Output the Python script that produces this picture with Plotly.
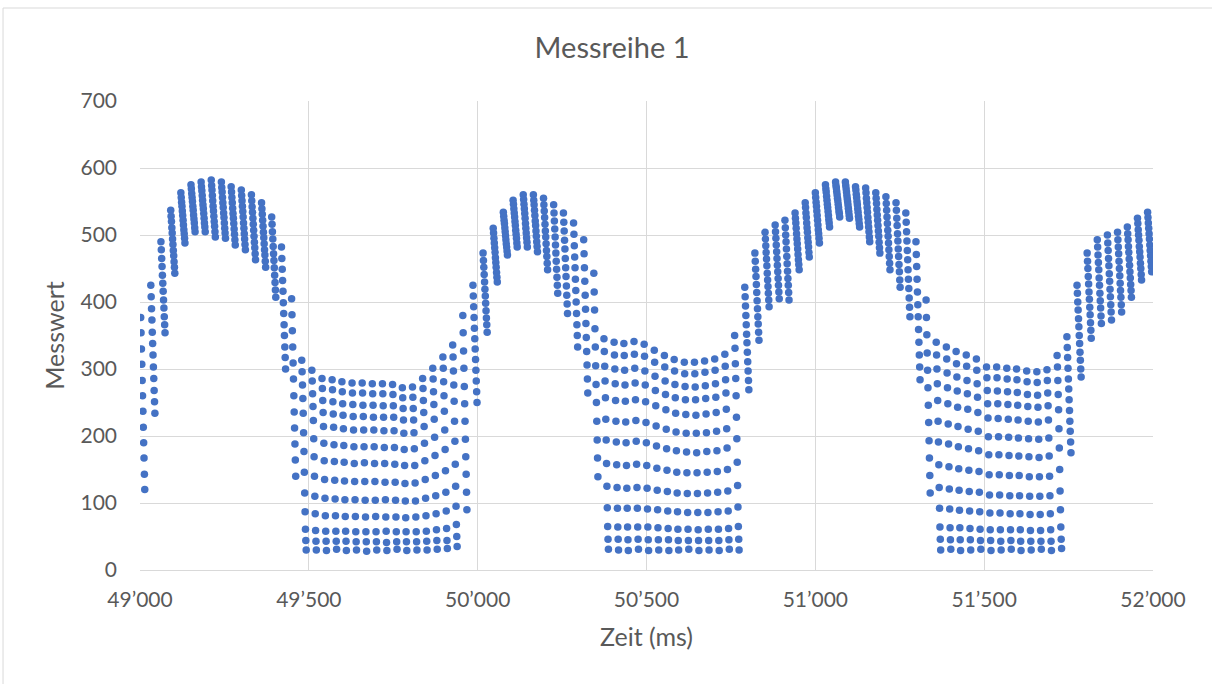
import plotly.graph_objects as go

# --- Data -------------------------------------------------------------------
# start time (ms) of each ~30 ms sample block (column of points)
spalten_start_ms = [
    49002, 49032, 49062, 49091, 49121, 49151, 49181, 49211, 49241, 49270,
    49300, 49330, 49360, 49390, 49419, 49449, 49479, 49509, 49539, 49569,
    49598, 49628, 49658, 49688, 49718, 49748, 49777, 49807, 49837, 49867,
    49897, 49926, 49956, 49986, 50016, 50046, 50076, 50105, 50135, 50165,
    50195, 50225, 50254, 50284, 50314, 50344, 50374, 50404, 50433, 50463,
    50493, 50523, 50553, 50582, 50612, 50642, 50672, 50702, 50732, 50761,
    50791, 50821, 50851, 50881, 50910, 50940, 50970, 51000, 51030, 51060,
    51089, 51119, 51149, 51179, 51209, 51239, 51268, 51298, 51328, 51358,
    51388, 51417, 51447, 51477, 51507, 51537, 51567, 51596, 51626, 51656,
    51686, 51716, 51745, 51775, 51805, 51835, 51865, 51895, 51924, 51954,
    51984,
]
abtastintervall_ms = 1.1  # spacing of samples inside one block

spitze_1 = [
    [377, 354, 330, 307, 283, 260, 237, 213, 190, 167, 143, 120],
    [425, 408, 390, 373, 355, 338, 321, 303, 286, 268, 251, 234],
    [490, 478, 465, 453, 440, 428, 416, 403, 391, 378, 366, 354],
    [537, 528, 520, 511, 503, 494, 486, 477, 469, 460, 452, 443],
    [563, 556, 549, 543, 536, 529, 522, 515, 508, 502, 495, 488],
    [575, 569, 562, 556, 550, 543, 537, 530, 524, 518, 511, 505],
    [579, 572, 566, 559, 552, 545, 539, 532, 525, 518, 512, 505],
    [582, 574, 567, 559, 551, 543, 536, 528, 520, 513, 505, 497],
    [579, 571, 564, 556, 548, 541, 533, 526, 518, 510, 503, 495],
    [572, 564, 556, 548, 540, 532, 525, 517, 509, 501, 493, 485],
    [567, 559, 551, 543, 535, 527, 518, 510, 502, 494, 486, 478],
    [560, 551, 542, 534, 525, 516, 507, 498, 489, 481, 472, 463],
    [548, 539, 531, 522, 513, 504, 496, 487, 478, 470, 461, 452],
    [527, 516, 505, 494, 483, 472, 462, 451, 440, 429, 418, 407],
    [482, 465, 449, 432, 416, 399, 383, 366, 350, 333, 317, 300],
    [405, 381, 357, 333, 309, 285, 260, 236, 212, 188, 164, 140],
]
tal_1 = [
    [313, 296, 276, 256, 234, 205, 177, 146, 115, 87, 61, 44, 30],
    [298, 282, 263, 244, 223, 196, 169, 140, 110, 84, 59, 43, 30],
    [286, 271, 253, 235, 214, 189, 163, 135, 107, 81, 58, 43, 29],
    [284, 269, 251, 233, 213, 187, 162, 134, 106, 81, 58, 43, 31],
    [281, 266, 248, 231, 211, 186, 161, 133, 105, 80, 58, 43, 29],
    [279, 264, 247, 229, 209, 184, 159, 132, 105, 80, 57, 42, 30],
    [279, 264, 246, 229, 209, 184, 160, 132, 104, 79, 57, 42, 28],
    [278, 263, 246, 228, 209, 184, 159, 132, 104, 80, 57, 42, 30],
    [278, 263, 245, 228, 208, 183, 159, 131, 105, 79, 58, 41, 29],
    [277, 262, 245, 228, 208, 183, 158, 131, 104, 79, 57, 42, 31],
    [272, 257, 241, 224, 204, 180, 156, 129, 103, 78, 57, 42, 29],
    [273, 258, 241, 224, 205, 181, 156, 130, 103, 79, 57, 42, 30],
    [286, 271, 253, 235, 214, 189, 163, 135, 107, 81, 58, 43, 30],
    [301, 285, 266, 247, 225, 198, 171, 141, 111, 84, 60, 44, 31],
    [318, 301, 281, 260, 237, 209, 180, 148, 116, 88, 62, 44, 32],
    [336, 318, 297, 276, 252, 222, 192, 158, 125, 95, 68, 50, 35],
    [380, 354, 327, 301, 274, 248, 222, 195, 169, 143, 116, 90],
]
spitze_2 = [
    [425, 409, 393, 377, 361, 345, 330, 314, 298, 282, 266, 250],
    [473, 462, 452, 441, 430, 419, 409, 398, 387, 376, 366, 355],
    [510, 503, 495, 488, 481, 474, 466, 459, 452, 444, 437, 430],
    [534, 528, 522, 517, 511, 505, 499, 493, 487, 482, 476, 470],
    [552, 546, 539, 533, 527, 520, 514, 507, 501, 495, 488, 482],
    [560, 553, 546, 539, 532, 525, 517, 510, 503, 496, 489, 482],
    [560, 552, 545, 537, 529, 521, 514, 506, 498, 490, 483, 475],
    [555, 545, 536, 526, 516, 506, 497, 487, 477, 468, 458, 448],
    [545, 533, 521, 509, 497, 485, 473, 461, 449, 437, 425, 413],
    [533, 519, 506, 492, 479, 465, 451, 438, 424, 410, 397, 383],
    [518, 501, 484, 467, 451, 434, 417, 400, 383, 366, 350, 333],
    [493, 472, 451, 431, 410, 389, 368, 347, 326, 306, 285, 264],
    [443, 415, 388, 360, 333, 305, 277, 250, 222, 194, 167, 139],
]
tal_2 = [
    [345, 326, 304, 282, 257, 225, 194, 159, 125, 93, 65, 46, 31],
    [340, 321, 300, 278, 253, 222, 191, 157, 123, 92, 64, 46, 30],
    [338, 320, 298, 276, 252, 221, 190, 156, 122, 92, 64, 45, 29],
    [341, 322, 301, 279, 254, 223, 192, 158, 123, 92, 64, 46, 31],
    [337, 319, 297, 276, 251, 220, 190, 156, 122, 91, 64, 45, 29],
    [328, 310, 289, 268, 245, 215, 185, 152, 119, 90, 63, 45, 30],
    [320, 303, 282, 262, 239, 210, 181, 149, 117, 88, 62, 45, 29],
    [314, 297, 277, 257, 234, 206, 178, 146, 115, 87, 61, 44, 30],
    [310, 293, 274, 254, 232, 204, 176, 145, 114, 86, 61, 44, 31],
    [310, 293, 273, 254, 231, 204, 175, 145, 114, 86, 60, 44, 29],
    [312, 295, 275, 256, 233, 205, 177, 146, 115, 86, 61, 44, 30],
    [315, 298, 278, 258, 235, 207, 178, 147, 116, 87, 61, 44, 29],
    [322, 304, 284, 264, 240, 211, 182, 150, 118, 88, 62, 45, 31],
    [350, 331, 308, 286, 260, 228, 196, 161, 126, 94, 65, 46, 30],
]
spitze_3 = [
    [422, 408, 394, 380, 366, 352, 339, 325, 311, 297, 283, 269],
    [473, 461, 449, 438, 426, 414, 402, 390, 378, 367, 355, 343],
    [504, 494, 484, 474, 464, 454, 443, 433, 423, 413, 403, 393],
    [515, 505, 495, 485, 475, 465, 455, 445, 435, 425, 415, 405],
    [522, 511, 500, 490, 479, 468, 457, 446, 435, 425, 414, 403],
    [533, 525, 518, 510, 502, 494, 487, 479, 471, 463, 456, 448],
    [548, 541, 533, 526, 518, 511, 504, 496, 489, 482, 474, 467],
    [563, 556, 549, 543, 536, 529, 522, 515, 508, 502, 495, 488],
    [575, 569, 564, 558, 552, 546, 541, 535, 529, 523, 518, 512],
    [579, 574, 570, 565, 560, 555, 551, 546, 541, 536, 532, 527],
    [579, 574, 569, 564, 559, 554, 550, 545, 540, 535, 530, 525],
    [572, 567, 561, 556, 550, 545, 539, 534, 528, 523, 517, 512],
    [570, 563, 555, 548, 541, 534, 526, 519, 512, 505, 497, 490],
    [563, 555, 547, 538, 530, 522, 514, 506, 498, 489, 481, 473],
    [557, 547, 537, 527, 517, 507, 498, 488, 478, 468, 458, 448],
    [548, 537, 525, 514, 502, 491, 479, 468, 456, 445, 433, 422],
    [533, 519, 505, 491, 477, 463, 448, 434, 420, 406, 392, 378],
    [490, 471, 453, 434, 415, 396, 378, 359, 340, 321, 303, 284],
    [403, 377, 351, 324, 298, 272, 246, 220, 193, 167, 141, 115],
]
tal_3 = [
    [340, 321, 300, 278, 253, 222, 191, 157, 123, 92, 64, 46, 30],
    [333, 315, 294, 272, 248, 218, 188, 154, 121, 91, 63, 45, 31],
    [326, 308, 288, 267, 243, 214, 184, 151, 119, 89, 63, 45, 29],
    [321, 304, 283, 263, 240, 210, 181, 149, 117, 88, 62, 45, 30],
    [315, 298, 278, 258, 235, 207, 178, 147, 116, 87, 61, 44, 31],
    [303, 287, 268, 248, 227, 199, 172, 142, 112, 85, 60, 44, 29],
    [303, 287, 267, 248, 226, 199, 172, 142, 112, 85, 60, 43, 30],
    [301, 285, 266, 247, 225, 198, 171, 141, 111, 84, 60, 44, 31],
    [300, 284, 265, 246, 224, 197, 170, 141, 111, 84, 60, 43, 29],
    [297, 281, 262, 244, 222, 196, 169, 139, 110, 83, 59, 43, 30],
    [296, 280, 261, 243, 221, 195, 168, 139, 110, 83, 59, 43, 31],
    [299, 283, 264, 245, 224, 197, 170, 140, 111, 84, 60, 43, 29],
    [320, 303, 283, 262, 239, 211, 182, 150, 118, 90, 64, 46, 32],
]
anstieg_4 = [
    [348, 332, 317, 301, 285, 270, 254, 238, 222, 207, 191, 175],
    [425, 413, 400, 388, 375, 363, 350, 338, 325, 313, 300, 288],
    [473, 461, 450, 438, 427, 415, 404, 392, 381, 369, 358, 346],
    [493, 482, 470, 459, 448, 436, 425, 413, 402, 391, 379, 368],
    [500, 488, 477, 465, 454, 442, 431, 419, 408, 396, 385, 373],
    [504, 493, 482, 472, 461, 450, 439, 428, 417, 407, 396, 385],
    [512, 502, 493, 483, 474, 464, 455, 445, 436, 426, 417, 407],
    [525, 517, 508, 500, 492, 483, 475, 467, 458, 450, 441, 433],
    [534, 526, 518, 510, 502, 494, 485, 477, 469, 461, 453, 445],
]

x_ticks = [49000, 49500, 50000, 50500, 51000, 51500, 52000]
x_ticktext = ["49’000", "49’500", "50’000", "50’500", "51’000", "51’500", "52’000"]
y_ticks = [0, 100, 200, 300, 400, 500, 600, 700]

# --- Build point lists -------------------------------------------------------
bloecke = spitze_1 + tal_1 + spitze_2 + tal_2 + spitze_3 + tal_3 + anstieg_4
zeit, wert = [], []
for t0, block in zip(spalten_start_ms, bloecke):
    for i, v in enumerate(block):
        zeit.append(t0 + i * abtastintervall_ms)
        wert.append(v)

FONT = "Lato, Carlito, Calibri, sans-serif"
GREY = "#595959"
GRID = "#D9D9D9"

fig = go.Figure(
    go.Scatter(
        x=zeit, y=wert, mode="markers",
        marker=dict(size=7.5, color="#4472C4", line=dict(width=0)),
        cliponaxis=True, showlegend=False,
    )
)

fig.update_layout(
    width=1212, height=684,
    margin=dict(l=140, r=59, t=101, b=114),
    paper_bgcolor="white", plot_bgcolor="white",
    font=dict(family=FONT, color=GREY),
    title=dict(text="Messreihe 1", x=0.505, xref="container", xanchor="center",
               y=1 - 48 / 684, yref="container", yanchor="middle",
               font=dict(size=29, color=GREY, family=FONT)),
    shapes=[dict(type="rect", xref="paper", yref="paper",
                 x0=-0.1352, x1=1.2, y0=-0.4, y1=(570 - 8) / 469,
                 line=dict(color=GRID, width=1), layer="below")],
)
fig.update_xaxes(
    range=[49000, 52000], tickvals=x_ticks, ticktext=x_ticktext,
    showgrid=True, gridcolor=GRID, gridwidth=1, zeroline=False,
    showline=True, linecolor=GRID, linewidth=1,
    ticks="", ticklabelstandoff=11,
    tickfont=dict(size=21, color=GREY, family=FONT),
    title=dict(text="Zeit (ms)", font=dict(size=25, color=GREY, family=FONT), standoff=18),
)
fig.update_yaxes(
    range=[0, 700], tickvals=y_ticks,
    showgrid=True, gridcolor=GRID, gridwidth=1, zeroline=False,
    showline=False, ticks="", ticklabelstandoff=22,
    tickfont=dict(size=21, color=GREY, family=FONT),
    title=dict(text="Messwert", font=dict(size=25, color=GREY, family=FONT), standoff=8),
)

fig.write_html("out.html")
